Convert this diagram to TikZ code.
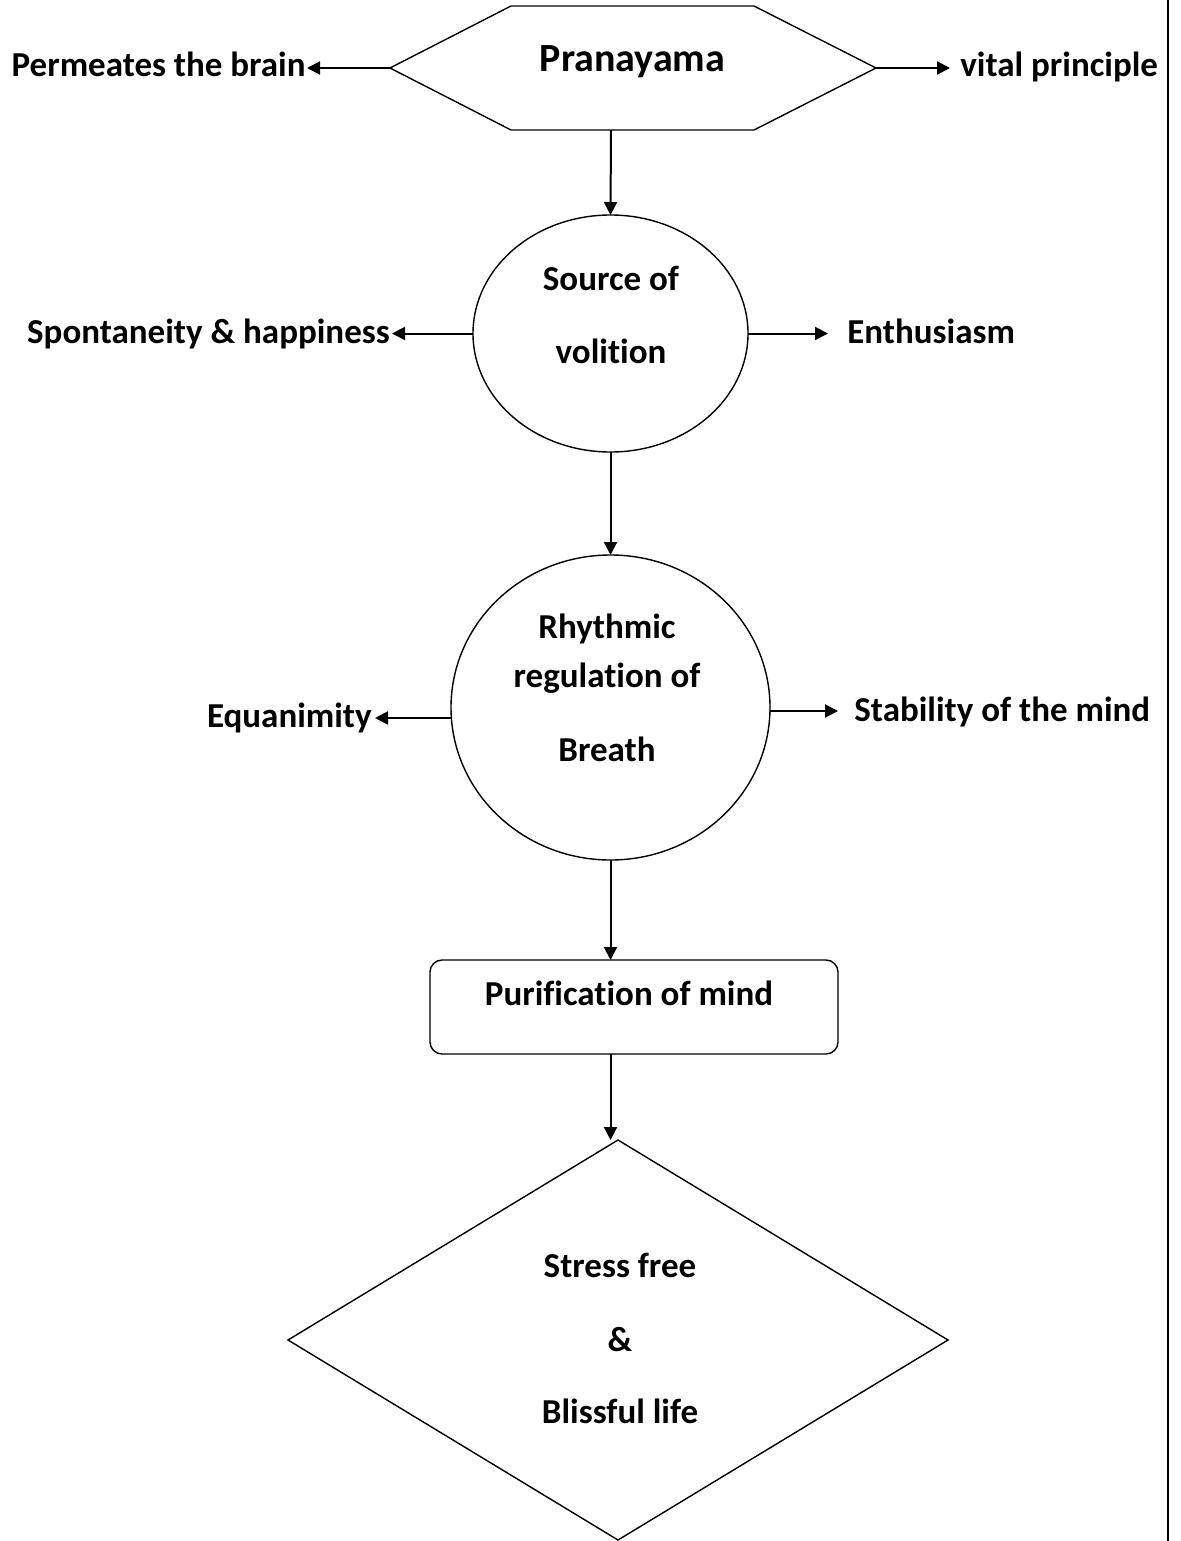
\documentclass[tikz,border=0pt]{standalone}
\usepackage{fontspec}
\setmainfont{Carlito}[Ligatures=NoCommon]
\usetikzlibrary{shapes.geometric, arrows.meta, positioning}
\tikzset{
  arr/.style={line width=1pt, -{Triangle[length=6.5pt,width=6.5pt]}},
  outline/.style={draw, line width=0.7pt, inner sep=0pt, outer sep=0pt},
  lbl/.style={inner ysep=0pt, font=\fontsize{17.5}{21}\selectfont\bfseries},
  txt/.style={inner sep=0pt, align=center, anchor=base, font=\fontsize{17.5}{21}\selectfont\bfseries}
}

\begin{document}
\begin{tikzpicture}[x=0.5pt, y=-0.5pt]
\useasboundingbox (0,0) rectangle (1181,1541);
\draw[line width=1pt] (1168,0) -- (1168,1541);

\coordinate (hexW) at (390,68);
\coordinate (hexE) at (876,68);
\coordinate (hexS) at (611,130);
\draw[line width=0.7pt] (hexW) -- (511,6) -- (754,6) -- (hexE) -- (754,130) -- (511,130) -- cycle;
\node[txt, font=\fontsize{20}{24}\selectfont\bfseries] (prana) at (632.5,72) {Pranayama};

\node[outline, ellipse, minimum width=137.5pt, minimum height=118.5pt] (src) at (610.5,333.5) {};
\node[txt] (srctxt) at (611,363) {Source of\\[15.5pt]volition};
\node[outline, ellipse, minimum width=159.5pt, minimum height=152.5pt] (breath) at (610.5,707.5) {};
\node[txt] (breathtxt) at (607,761) {Rhythmic\\[3.5pt]regulation of\\[16pt]Breath};
\node[outline, rounded corners=6pt, minimum width=204pt, minimum height=47pt] (purif) at (634,1007) {};
\node[txt] (puriftxt) at (629,1005) {Purification of mind};
\node[outline, diamond, minimum width=330pt, minimum height=200pt] (goal) at (618,1340) {};
\node[txt] (goaltxt) at (620,1423) {Stress free\\[16pt]\&\\[15pt]Blissful life};

\node[lbl, anchor=base east, inner xsep=0.5pt] (brain) at (307,76) {Permeates the brain};
\node[lbl, anchor=base west, inner xsep=5pt] (vital) at (950,76) {vital principle};
\node[lbl, anchor=base east, inner xsep=1pt] (spont) at (392,343) {Spontaneity \& happiness};
\node[lbl, anchor=base west, inner xsep=9.5pt] (enth) at (828,343) {Enthusiasm};
\node[lbl, anchor=base east, inner xsep=1.5pt] (equa) at (375,727) {Equanimity};
\node[lbl, anchor=base west, inner xsep=8pt] (stab) at (838,721) {Stability of the mind};

\coordinate (brW) at ([yshift=-5.25pt]breath.west);
\coordinate (brE) at ([yshift=-1.75pt]breath.east);

\draw[arr] (hexW) -- (hexW -| brain.east);
\draw[arr] (hexE) -- (hexE -| vital.west);
\draw[arr] (hexS) -- (src.north);
\draw[arr] (src.west) -- (src.west -| spont.east);
\draw[arr] (src.east) -- (src.east -| enth.west);
\draw[arr] (src.south) -- (breath.north);
\draw[arr] (brW) -- (brW -| equa.east);
\draw[arr] (brE) -- (brE -| stab.west);
\draw[arr] (breath.south) -- (breath.south |- purif.north);
\draw[arr] (breath.south |- purif.south) -- (breath.south |- goal.north);
\end{tikzpicture}
\end{document}
